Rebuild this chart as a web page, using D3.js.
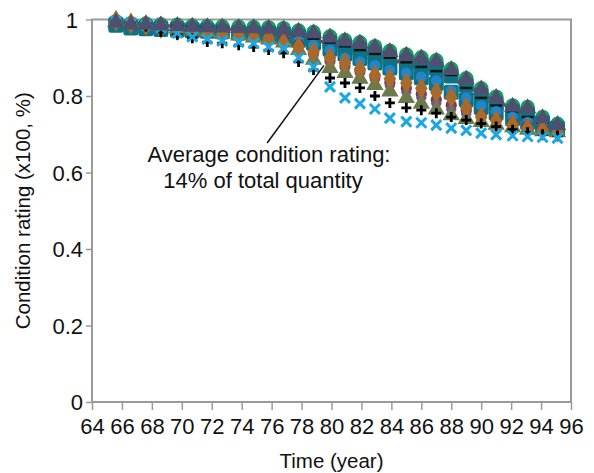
<!DOCTYPE html>
<html>
<head>
<meta charset="utf-8">
<script src="https://cdn.jsdelivr.net/npm/d3@7"></script>
<style>
  body { margin: 0; background: #fff; }
  text { font-family: "Liberation Sans", Arial, Helvetica, sans-serif; fill: #111; }
</style>
</head>
<body>
<div id="chart"></div>
<script>
// time positions of the yearly markers
const years = [65.6, 66.6, 67.6, 68.6, 69.7, 70.7, 71.7, 72.7, 73.8, 74.8,
               75.8, 76.8, 77.8, 78.8, 79.9, 80.9, 81.9, 82.9, 83.9, 85.0,
               86.0, 87.0, 88.0, 89.0, 90.0, 91.0, 92.1, 93.1, 94.1, 95.1];

const xTicks = [64, 66, 68, 70, 72, 74, 76, 78, 80, 82, 84, 86, 88, 90, 92, 94, 96];
const yTicks = [0, 0.2, 0.4, 0.6, 0.8, 1];

const redLine   = [0.993,0.990,0.987,0.984,0.982,0.980,0.978,0.976,0.973,0.970,0.967,0.965,0.958,0.948,0.936,0.925,0.915,0.905,0.895,0.885,0.875,0.862,0.845,0.828,0.808,0.785,0.768,0.750,0.737,0.722];
const green     = [0.995,0.990,0.989,0.987,0.986,0.984,0.983,0.982,0.981,0.980,0.979,0.977,0.971,0.967,0.956,0.946,0.940,0.930,0.918,0.908,0.901,0.893,0.871,0.846,0.820,0.798,0.775,0.771,0.745,0.727];
const teal1     = [0.985,0.978,0.976,0.974,0.972,0.970,0.969,0.968,0.966,0.965,0.964,0.962,0.956,0.950,0.940,0.930,0.922,0.912,0.900,0.890,0.882,0.872,0.852,0.828,0.802,0.780,0.760,0.752,0.730,0.716];
const teal2     = [0.988,0.982,0.980,0.978,0.976,0.973,0.971,0.968,0.965,0.962,0.958,0.953,0.945,0.938,0.922,0.910,0.898,0.886,0.873,0.860,0.848,0.833,0.810,0.790,0.770,0.755,0.740,0.730,0.720,0.712];
const blackDash = [0.993,0.990,0.988,0.986,0.984,0.982,0.980,0.978,0.975,0.972,0.968,0.964,0.958,0.950,0.940,0.930,0.920,0.910,0.900,0.888,0.876,0.865,0.855,0.821,0.795,0.775,0.760,0.745,0.730,0.720];
const blue      = [0.997,0.993,0.990,0.987,0.984,0.981,0.978,0.975,0.972,0.968,0.963,0.955,0.945,0.933,0.920,0.900,0.890,0.880,0.868,0.860,0.850,0.840,0.815,0.795,0.775,0.760,0.745,0.732,0.722,0.715];
const darkBrown = [0.996,0.992,0.989,0.986,0.982,0.977,0.973,0.969,0.965,0.960,0.955,0.950,0.935,0.912,0.892,0.878,0.865,0.850,0.835,0.820,0.805,0.790,0.776,0.762,0.750,0.740,0.730,0.722,0.716,0.712];
const purple    = [0.996,0.991,0.988,0.985,0.980,0.975,0.970,0.966,0.962,0.957,0.952,0.945,0.928,0.905,0.886,0.872,0.858,0.842,0.826,0.810,0.795,0.780,0.765,0.752,0.742,0.733,0.725,0.718,0.712,0.708];
const olive     = [0.995,0.990,0.987,0.983,0.978,0.972,0.967,0.963,0.958,0.953,0.948,0.940,0.920,0.895,0.873,0.860,0.845,0.829,0.812,0.795,0.780,0.765,0.750,0.740,0.732,0.725,0.718,0.712,0.708,0.705];
const brown     = [0.997,0.990,0.985,0.978,0.972,0.968,0.965,0.962,0.958,0.954,0.951,0.938,0.928,0.915,0.900,0.886,0.870,0.855,0.845,0.834,0.820,0.810,0.797,0.770,0.745,0.735,0.725,0.716,0.710,0.706];
const blackPlus = [0.995,0.990,0.982,0.968,0.960,0.951,0.941,0.938,0.933,0.928,0.920,0.912,0.889,0.868,0.847,0.834,0.821,0.800,0.782,0.769,0.763,0.755,0.745,0.737,0.728,0.720,0.712,0.705,0.700,0.697];
const blueX     = [0.995,0.990,0.985,0.978,0.965,0.955,0.949,0.944,0.941,0.938,0.928,0.925,0.900,0.876,0.824,0.795,0.780,0.766,0.742,0.733,0.730,0.724,0.716,0.710,0.703,0.699,0.696,0.694,0.692,0.690];
const tan       = [1.000,0.995,0.994,0.992,0.991,0.989,0.988,0.987,0.986,0.985,0.984,0.982,0.976,0.972,0.961,0.951,0.945,0.935,0.923,0.913,0.906,0.898,0.876,0.851,0.825,0.803,0.780,0.776,0.750,0.732];
const slate     = [0.992,0.987,0.986,0.984,0.983,0.981,0.980,0.979,0.978,0.977,0.976,0.974,0.968,0.964,0.953,0.943,0.937,0.927,0.915,0.905,0.898,0.890,0.868,0.843,0.817,0.795,0.772,0.768,0.742,0.724];

// annotation: arrow start and tip in data units
const noteLines = ["Average condition rating:", "14% of total quantity"];
const noteFrom = [75.7, 0.677];
const noteTo = [79.5, 0.88];

const width = 594, height = 473;
const margin = { top: 19.5, right: 23, bottom: 71, left: 92 };

const svg = d3.select('#chart').append('svg')
    .attr('width', width)
    .attr('height', height);

const x = d3.scaleLinear().domain([64, 96]).range([margin.left, width - margin.right]);
const y = d3.scaleLinear().domain([0, 1]).range([height - margin.bottom, margin.top]);

// frame
svg.append('rect')
    .attr('x', x(64)).attr('y', y(1))
    .attr('width', x(96) - x(64)).attr('height', y(0) - y(1))
    .attr('fill', 'none').attr('stroke', '#9a9a9a').attr('stroke-width', 2);

// axes
const xAxis = svg.append('g')
    .attr('transform', `translate(0,${y(0)})`)
    .call(d3.axisBottom(x).tickValues(xTicks).tickSize(8).tickPadding(8).tickFormat(d3.format('d')));
const yAxis = svg.append('g')
    .attr('transform', `translate(${x(64)},0)`)
    .call(d3.axisLeft(y).tickValues(yTicks).tickSize(6).tickPadding(3).tickFormat(d => d === 0 || d === 1 ? d : d3.format('.1f')(d)));

[xAxis, yAxis].forEach(a => {
    a.select('.domain').remove();
    a.selectAll('line').attr('stroke', '#9a9a9a').attr('stroke-width', 1.5);
    a.selectAll('text').style('font-size', '22px').attr('fill', '#111');
});
yAxis.selectAll('text').attr('dy', '0.36em');
yAxis.selectAll('.tick').filter(d => d === 1).select('text').attr('x', -14);

svg.append('text')
    .attr('x', (x(64) + x(96)) / 2).attr('y', 468)
    .attr('text-anchor', 'middle').style('font-size', '20.5px')
    .text('Time (year)');

svg.append('text')
    .attr('transform', `translate(30,${(y(0) + y(1)) / 2}) rotate(-90)`)
    .attr('text-anchor', 'middle').style('font-size', '20.5px')
    .text('Condition rating (x100, %)');

// red average line, behind the markers
svg.append('path')
    .datum(redLine)
    .attr('fill', 'none').attr('stroke', '#d2262b').attr('stroke-width', 3.5)
    .attr('d', d3.line().x((d, i) => x(years[i])).y(d => y(d)));

const sym = (type, size) => d3.symbol().type(type).size(size)();

const series = [
    { values: green,     color: '#14a05e', shape: sym(d3.symbolCircle, 170) },
    { values: teal1,     color: '#0f7282', round: true },
    { values: teal2,     color: '#0f7282', round: true },
    { values: blackDash, color: '#111', dash: true },
    { values: blue,      color: '#1d86d0', shape: sym(d3.symbolCircle, 90) },
    { values: darkBrown, color: '#6e4040', shape: sym(d3.symbolCircle, 100) },
    { values: purple,    color: '#7c4e94', shape: sym(d3.symbolDiamond, 100) },
    { values: olive,     color: '#6a7b4b', shape: sym(d3.symbolTriangle, 130) },
    { values: brown,     color: '#a8692c', shape: sym(d3.symbolDiamond, 135) },
    { values: blackPlus, color: '#000', cross: 'plus' },
    { values: blueX,     color: '#1ba8e2', cross: 'x' },
    { values: tan,       color: '#c48a45', shape: sym(d3.symbolTriangle, 25) },
    { values: slate,     color: '#4f5070', shape: sym(d3.symbolTriangle, 130) }
];

series.forEach(s => {
    const g = svg.append('g');
    const pts = g.selectAll('g').data(s.values).enter().append('g')
        .attr('transform', (d, i) => `translate(${x(years[i])},${y(d)})`);
    if (s.dash) {
        pts.append('line').attr('x1', -6).attr('x2', 6)
            .attr('stroke', s.color).attr('stroke-width', 2.5);
    } else if (s.cross === 'plus') {
        pts.append('path').attr('d', 'M-5,0H5M0,-5V5')
            .attr('stroke', s.color).attr('stroke-width', 2.8).attr('fill', 'none');
    } else if (s.cross === 'x') {
        pts.append('path').attr('d', 'M-5,-5L5,5M5,-5L-5,5')
            .attr('stroke', s.color).attr('stroke-width', 3).attr('fill', 'none');
    } else if (s.round) {
        pts.append('rect').attr('x', -7.5).attr('y', -7.5).attr('width', 15).attr('height', 15)
            .attr('rx', 2.5).attr('fill', s.color);
    } else {
        pts.append('path').attr('d', s.shape).attr('fill', s.color);
    }
});

// annotation
svg.append('line')
    .attr('x1', x(noteFrom[0])).attr('y1', y(noteFrom[1]))
    .attr('x2', x(noteTo[0])).attr('y2', y(noteTo[1]))
    .attr('stroke', '#111').attr('stroke-width', 1.5);

svg.append('text')
    .attr('text-anchor', 'middle').style('font-size', '22px')
    .selectAll('tspan').data(noteLines).enter().append('tspan')
    .attr('x', (d, i) => i === 0 ? 269 : 263)
    .attr('y', (d, i) => 162 + i * 26)
    .text(d => d);
</script>
</body>
</html>
